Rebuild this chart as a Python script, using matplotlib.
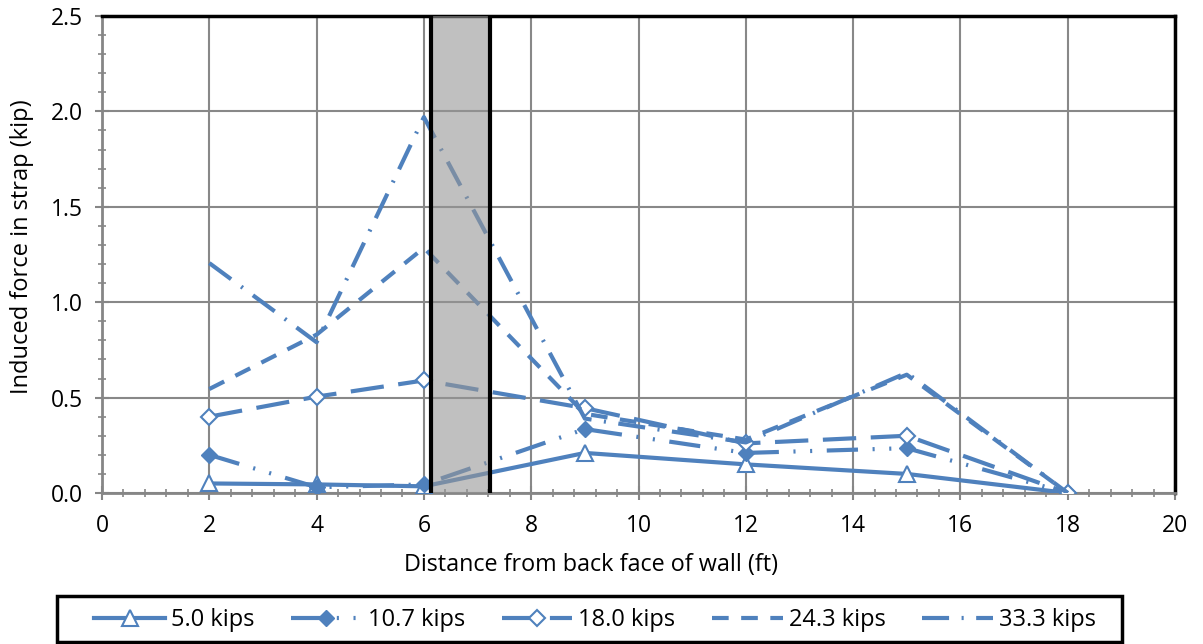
import matplotlib.pyplot as plt
from matplotlib.patches import Rectangle

plt.rcParams['font.family'] = ['Open Sans', 'DejaVu Sans']

# -------------------------
# Data
# -------------------------
dist = [2, 4, 6, 9, 12, 15, 18]

f_5_0 = [0.05, 0.045, 0.035, 0.21, 0.15, 0.10, 0.0]
f_10_7 = [0.20, 0.03, 0.045, 0.335, 0.21, 0.235, 0.0]
f_18_0 = [0.40, 0.505, 0.59, 0.445, 0.26, 0.30, 0.0]
f_24_3 = [0.545, 0.83, 1.285, 0.415, 0.28, 0.62, 0.0]
f_33_3 = [1.205, 0.79, 1.97, 0.39, 0.265, 0.63, 0.0]

labels = ["5.0 kips", "10.7 kips", "18.0 kips", "24.3 kips", "33.3 kips"]

band_x0 = 6.13
band_x1 = 7.23

blue = "#4F81BD"

# -------------------------
# Figure
# -------------------------
W, H = 1203, 644
fig = plt.figure(figsize=(W / 100, H / 100), dpi=100)
ax = fig.add_axes([102 / W, 1 - 493 / H, (1175 - 102) / W, (493 - 16) / H])

lw = 3.0
ax.plot(dist, f_5_0, color=blue, lw=lw, marker="^", ms=11, mfc="white",
        mec=blue, mew=1.5, label=labels[0], zorder=3)
ax.plot(dist, f_10_7, color=blue, lw=lw, marker="D", ms=8.5, mfc=blue, mec=blue,
        dashes=(7.5, 3.5, 0.5, 3.5, 0.5, 3.5), label=labels[1], zorder=3)
ax.plot(dist, f_18_0, color=blue, lw=lw, marker="D", ms=8.5, mfc="white",
        mec=blue, mew=1.5, dashes=(8, 3.5), label=labels[2], zorder=3)
ax.plot(dist, f_24_3, color=blue, lw=lw, dashes=(4, 3), label=labels[3], zorder=3)
ax.plot(dist, f_33_3, color=blue, lw=lw, dashes=(6.5, 3, 0.5, 3),
        label=labels[4], zorder=3)

# shaded band over the lines
ax.add_patch(Rectangle((band_x0, 0), band_x1 - band_x0, 2.5,
                       facecolor="#969696", alpha=0.6, edgecolor="none", zorder=4))
ax.axvline(band_x0, color="black", lw=3, zorder=5)
ax.axvline(band_x1, color="black", lw=3, zorder=5)

# -------------------------
# Axes styling
# -------------------------
ax.set_xlim(0, 20)
ax.set_ylim(0, 2.5)
ax.set_xticks(range(0, 21, 2))
ax.set_yticks([0, 0.5, 1.0, 1.5, 2.0, 2.5])
ax.set_yticklabels(["0.0", "0.5", "1.0", "1.5", "2.0", "2.5"])
ax.set_xticks([i * 0.4 for i in range(51)], minor=True)
ax.set_yticks([i * 0.1 for i in range(26)], minor=True)
ax.grid(True, which="major", color="#888888", lw=1.5, zorder=0)
ax.set_axisbelow(True)

ax.tick_params(which="major", direction="inout", length=10, width=1.5,
               color="#868686", labelsize=16.5)
ax.tick_params(axis="x", which="major", pad=10)
ax.tick_params(axis="y", which="major", pad=9)
ax.tick_params(which="minor", direction="inout", length=6, width=1.2,
               color="#868686")

for s in ["left", "bottom"]:
    ax.spines[s].set_color("#868686")
    ax.spines[s].set_linewidth(2)
for s in ["top", "right"]:
    ax.spines[s].set_color("black")
    ax.spines[s].set_linewidth(2.5)

fig.text(591 / W, 1 - 565 / H, "Distance from back face of wall (ft)",
         fontsize=16.8, ha="center", va="center")
fig.text(22 / W, 1 - 247 / H, "Induced force in strap (kip)",
         fontsize=17, ha="center", va="center", rotation=90)

# legend frame and entries
fig.patches.append(Rectangle((57 / W, 2 / H), 1065 / W, 46 / H,
                             transform=fig.transFigure, facecolor="white",
                             edgecolor="black", lw=2.5))
leg = fig.legend(loc="center", bbox_to_anchor=(595 / W, 1 - 620 / H),
                 ncol=5, fontsize=17, handlelength=3.0, columnspacing=1.55,
                 handletextpad=0.25, frameon=False, numpoints=1,
                 borderaxespad=0)

fig.savefig("out.png", dpi=100)
